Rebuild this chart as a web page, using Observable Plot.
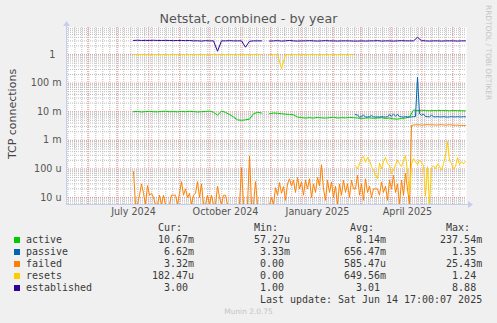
<!DOCTYPE html>
<html><head><meta charset="utf-8">
<script src="https://cdn.jsdelivr.net/npm/d3@7"></script>
<script src="https://cdn.jsdelivr.net/npm/@observablehq/plot@0.6"></script>
<style>
html,body{margin:0;padding:0;background:#f0f0f0;}
#wrap{position:relative;width:497px;height:323px;background:#f0f0f0;overflow:hidden;font-family:"DejaVu Sans",sans-serif;}
#chart{position:absolute;left:0;top:0;}
#title{position:absolute;left:0;top:10px;width:497px;text-align:center;font-size:12.7px;line-height:18px;color:#555;}
#ylab{position:absolute;left:11.5px;top:114px;transform:translate(-50%,-50%) rotate(-90deg);font-size:11px;color:#444;white-space:nowrap;}
#rrd{position:absolute;left:484px;top:5px;writing-mode:vertical-rl;font-size:7.4px;color:#c4c4c4;white-space:nowrap;}
#legend{position:absolute;left:26px;top:222px;margin:0;font-family:"DejaVu Sans Mono",monospace;font-size:9.97px;line-height:12px;color:#3a3a3a;}
.sw{position:absolute;left:14px;width:6px;height:6px;}
#munin{position:absolute;left:0;width:497px;top:307px;text-align:center;font-size:7.4px;color:#c4c4c4;}
</style></head>
<body><div id="wrap">
<div id="title">Netstat, combined - by year</div>
<div id="ylab">TCP connections</div>
<div id="rrd">RRDTOOL / TOBI OETIKER</div>
<div id="chart"></div>
<pre id="legend"></pre>
<div id="munin">Munin 2.0.75</div>
</div>
<script>
// ---- time frame (400 days ending at last update) ----
const xStart = new Date("2024-05-10T17:00:00Z");
const xEnd = new Date("2025-06-14T17:00:00Z");
const dataStartDate = "2024-07-16T17:00:00Z";
const yDomain = [5.69e-6, 8.8];

// ---- axis ticks ----
const xTickDates = ["2024-07-16T17:00:00Z", "2024-10-16T17:00:00Z", "2025-01-16T17:00:00Z", "2025-04-16T17:00:00Z"];
const xTickLabels = ["July 2024", "October 2024", "January 2025", "April 2025"];
const yTickValues = [1e-5, 1e-4, 1e-3, 1e-2, 1e-1, 1];
const yTickLabels = ["10 u", "100 u", "1 m", "10 m", "100 m", "1\u2007"];

// ---- series values ----
// active, milli-units, one value every 4 days from data start
const activeValues = [10.0,10.2,9.8,10.1,10.3,10.0,9.9,10.2,10.4,10.0,10.1,9.9,10.2,10.0,10.3,10.1,9.8,10.0,10.2,10.5,9.6,
  7.5,
  10.5,9.5,8.0,6.5,5.2,5.0,5.2,5.5,8.5,9.5,9.0,
  null,
  8.5,9.0,8.8,8.5,8.2,8.0,7.8,6.5,6.2,6.0,6.2,6.0,6.3,6.1,6.0,6.2,6.4,6.0,6.2,6.1,6.3,
  6.2,6.0,5.8,6.0,6.1,5.9,6.0,6.2,5.8,6.0,5.6,5.5,5.8,6.0,6.5,
  11.5,11.0,11.2,11.0,10.8,11.0,10.9,11.1,11.0,10.8,11.0,10.9,10.8,10.67];
// passive, milli-units, one value every 2 days from 2025-02-23
const passiveValues = [8.0,7.5,6.5,6.8,7.5,6.6,6.5,6.7,7.3,6.6,
  6.5,6.6,6.5,6.7,6.6,6.5,6.7,7.8,7.0,8.2,
  7.0,8.0,6.8,6.6,6.5,6.7,6.6,6.5,6.6,6.7,
  6.8,160,8.5,7.5,8.2,6.8,6.7,6.6,7.5,6.7,
  6.6,6.7,6.6,6.6,6.7,6.6,6.5,6.6,6.7,6.6,
  6.6,6.7,6.6,6.6,6.7,6.62];
// failed, micro-units, one value every 2 days from data start
const failedValues = [80,0,0,12,30,14,0,26,12,14,
  10,0,0,12,0,12,0,0,0,12,
  12,12,0,14,36,12,20,10,14,0,
  12,14,36,10,30,0,0,12,0,12,
  0,0,25,10,0,12,12,0,0,0,
  0,0,0,0,110,0,0,0,280,0,
  0,36,0,0,0,null,null,null,0,10,
  0,22,12,33,14,24,8,30,45,25,
  40,15,50,20,35,12,40,20,45,10,
  30,15,50,25,140,20,8,40,15,35,
  10,25,0,30,12,40,15,30,10,40,
  20,20,60,12,30,8,45,15,25,10,
  20,20,20,12,35,15,25,8,40,20,
  60,15,30,0,40,12,70,20,0,3300,
  3400,3500,3450,3500,3400,3450,3500,3550,3500,3450,
  3500,3400,3450,3500,3500,3450,3400,3450,3500,3450,
  3400,3350,3400,3300,3350,3300,3320];
// resets until late February, every 4 days from data start
const resetsEarlyValues = [1,1,1,1,1,1,1,1,1,1,1,1,1,1,1,1,1,1,1,1,1,1,1,1,1,1,1,1,1,1,1,1,1,
  null,1,1,1,0.32,
  1,1,1,1,1,1,1,1,1,1,1,1,1,1,1,1,1,1];
// resets from 2025-02-23, micro-units, every 2 days
const resetsLateValues = [130,100,150,230,280,170,250,200,120,90,
  60,45,160,100,180,250,150,130,70,90,
  140,200,150,120,200,290,80,12,150,230,
  180,140,200,170,130,11,120,0,110,130,
  100,150,120,90,150,300,900,200,150,100,
  120,250,140,180,150,182];
// established, every 4 days from data start
const establishedValues = [3.1,3.15,3.1,3.12,3.1,3.15,3.1,3.1,3.12,3.1,3.05,3.1,3.1,3.05,3.1,
  3.0,3.02,2.95,3.05,3.0,3.0,
  1.3,
  3.0,3.0,3.05,3.0,3.0,3.0,
  1.8,
  2.9,3.0,3.0,3.0,
  null,
  2.95,3.0,3.05,2.95,3.0,3.1,3.0,2.95,3.0,3.0,3.05,3.0,2.95,3.0,3.05,3.0,3.0,2.95,3.0,3.0,3.0,
  2.95,2.95,3.0,2.95,3.0,3.0,3.05,2.95,3.0,3.0,2.95,3.0,3.05,3.0,3.0,3.0,
  4.0,
  3.05,3.0,2.95,3.0,3.0,2.95,3.0,3.0,3.0,2.95,3.0,3.0];

// ---- legend table ----
const names = ["active", "passive", "failed", "resets", "established"];
const colors = ["#00CC00", "#0066B3", "#FF8000", "#FFCC00", "#330099"];
const curValues = ["10.67m", "6.62m", "3.32m", "182.47u", "3.00"];
const minValues = ["57.27u", "3.33m", "0.00", "0.00", "1.00"];
const avgValues = ["8.14m", "656.47m", "585.47u", "649.56m", "3.01"];
const maxValues = ["237.54m", "1.35", "25.43m", "1.24", "8.88"];
const lastUpdate = "Last update: Sat Jun 14 17:00:07 2025";

// ---- build rows ----
const DAY = 864e5;
function rows(values, startISO, stepDays, unit) {
  const t0 = new Date(startISO).getTime();
  return values.map((v, i) => ({date: new Date(t0 + i * stepDays * DAY), v: v == null ? NaN : Math.max(v * unit, yDomain[0])}));
}
const series = [
  {color: colors[0], data: rows(activeValues, dataStartDate, 4, 1e-3)},
  {color: colors[1], data: rows(passiveValues, "2025-02-23T17:00:00Z", 2, 1e-3)},
  {color: colors[2], data: rows(failedValues, dataStartDate, 2, 1e-6)},
  {color: colors[3], data: rows(resetsEarlyValues, dataStartDate, 4, 1)},
  {color: colors[3], data: rows(resetsLateValues, "2025-02-23T17:00:00Z", 2, 1e-6)},
  {color: colors[4], data: rows(establishedValues, dataStartDate, 4, 1)}
];

const weeks = d3.utcSunday.range(xStart, xEnd);
const months = d3.utcMonth.range(xStart, xEnd);
const logTicks = d3.scaleLog().domain(yDomain).ticks();
const minorY = logTicks.filter(v => !yTickValues.some(t => Math.abs(t - v) / t < 1e-6));
const xTicks = xTickDates.map(d => new Date(d));
const xLabelMap = new Map(xTicks.map((d, i) => [d.getTime(), xTickLabels[i]]));
const yLabelMap = new Map(yTickValues.map((v, i) => [v, yTickLabels[i]]));

const minorColor = "#bdbdbd", majorColor = "#e59a9a";
const chart = Plot.plot({
  width: 497, height: 218,
  marginLeft: 66, marginRight: 31, marginTop: 27, marginBottom: 14,
  style: {background: "transparent", fontFamily: "DejaVu Sans", fontSize: "9.6px", color: "#555", overflow: "visible"},
  x: {type: "utc", domain: [xStart, xEnd]},
  y: {type: "log", domain: yDomain, clamp: true},
  marks: [
    Plot.frame({fill: "white", stroke: null}),
    Plot.ruleX(weeks, {stroke: minorColor, strokeDasharray: "1,1"}),
    Plot.ruleY(minorY, {stroke: minorColor, strokeDasharray: "1,1"}),
    Plot.ruleX(months, {stroke: majorColor, strokeDasharray: "1,1"}),
    Plot.ruleY(yTickValues, {stroke: majorColor, strokeDasharray: "1,1"}),
    ...series.map(s => Plot.lineY(s.data, {x: "date", y: "v", stroke: s.color, strokeWidth: 1})),
    Plot.axisX({ticks: xTicks, tickFormat: d => xLabelMap.get(d.getTime()), tickSize: 0, tickPadding: 4, label: null}),
    Plot.axisY({ticks: yTickValues, tickFormat: d => yLabelMap.get(d), tickSize: 0, tickPadding: 5, label: null})
  ]
});
document.getElementById("chart").appendChild(chart);

// axis lines with arrowheads, positioned from the scales
const sx = chart.scale("x").range, sy = chart.scale("y").range;
const svg = d3.select(chart);
const axisColor = "#c6cdf0";
const xl = sx[0], xr = sx[1], yb = sy[0], yt = sy[1];
svg.append("line").attr("x1", xl).attr("x2", xr + 3).attr("y1", yb + 0.5).attr("y2", yb + 0.5).attr("stroke", axisColor);
svg.append("line").attr("x1", xl + 0.5).attr("x2", xl + 0.5).attr("y1", yb).attr("y2", yt - 2).attr("stroke", axisColor);
svg.append("path").attr("d", `M${xr + 2},${yb - 3}L${xr + 7},${yb + 0.5}L${xr + 2},${yb + 4}Z`).attr("fill", axisColor);
svg.append("path").attr("d", `M${xl - 3},${yt - 1}L${xl + 0.5},${yt - 6}L${xl + 4},${yt - 1}Z`).attr("fill", axisColor);

// legend
function place(line, str, endCol) { return line.padEnd(endCol - str.length) + str; }
const unitPad = s => /[a-z]$/i.test(s) ? s : s + " ";
let lines = [];
let head = place("", "Cur:", 26); head = place(head, "Min:", 42); head = place(head, "Avg:", 58); head = place(head, "Max:", 74);
lines.push(head);
names.forEach((n, i) => {
  let l = place(n, unitPad(curValues[i]), 28);
  l = place(l, unitPad(minValues[i]), 44);
  l = place(l, unitPad(avgValues[i]), 60);
  l = place(l, unitPad(maxValues[i]), 76);
  lines.push(l);
});
lines.push(place("", lastUpdate, 76));
document.getElementById("legend").textContent = lines.join("\n");
const wrap = document.getElementById("wrap");
names.forEach((n, i) => {
  const d = document.createElement("div");
  d.className = "sw";
  d.style.top = (237 + i * 12) + "px";
  d.style.background = colors[i];
  wrap.appendChild(d);
});
</script>
</body></html>
